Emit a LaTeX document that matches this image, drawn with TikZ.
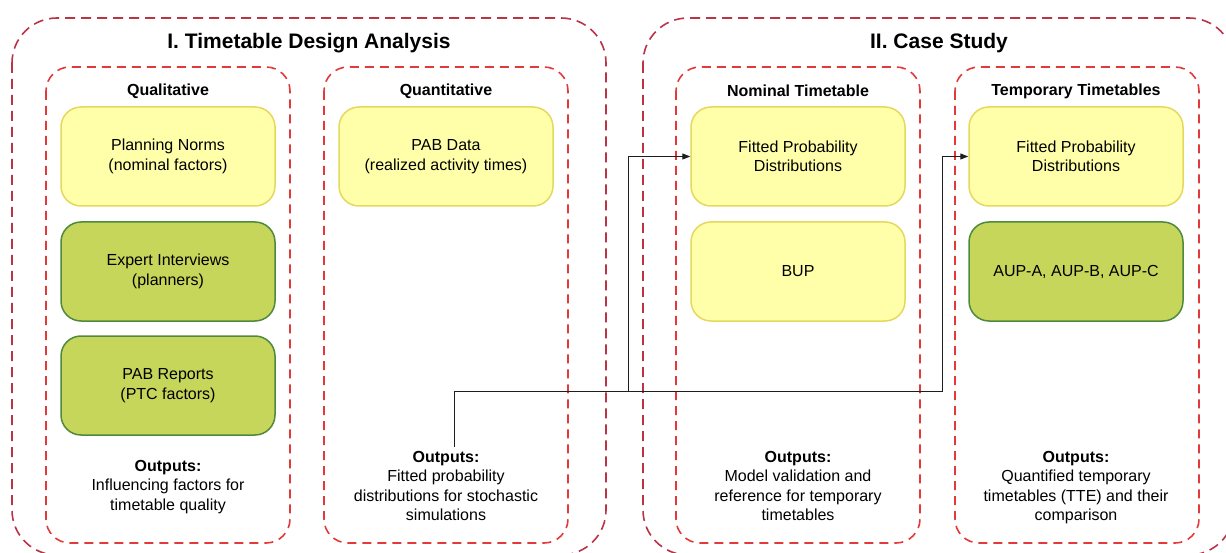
\documentclass[tikz,border=0pt]{standalone}
\usepackage{fontspec}
\setmainfont{Liberation Sans}
\usetikzlibrary{arrows.meta}

\definecolor{outerred}{RGB}{186,52,72}
\definecolor{innerred}{RGB}{226,58,58}
\definecolor{paleyellow}{RGB}{255,255,170}
\definecolor{yellowedge}{RGB}{230,216,92}
\definecolor{leafgreen}{RGB}{198,214,90}
\definecolor{leafedge}{RGB}{78,138,62}
\definecolor{wire}{RGB}{30,30,30}

\begin{document}
\begin{tikzpicture}[x=1pt,y=-1pt,
  phase/.style={draw=outerred, line width=1.6pt, dash pattern=on 10pt off 6pt, rounded corners=45pt},
  track/.style={draw=innerred, line width=1.6pt, dash pattern=on 9pt off 6pt, rounded corners=24pt},
  card/.style={rounded corners=20pt, line width=1.5pt, minimum width=214pt, minimum height=99pt,
    align=center, inner sep=0pt, font=\fontsize{16}{19.5}\selectfont},
  twoline/.style={execute at begin node={\rule{0pt}{16pt}}},
  normcard/.style={card, draw=yellowedge, fill=paleyellow},
  expertcard/.style={card, draw=leafedge, fill=leafgreen},
  heading/.style={font=\fontsize{21}{24}\bfseries\selectfont, inner sep=0pt},
  subheading/.style={font=\fontsize{16}{19}\bfseries\selectfont, inner sep=0pt},
  outtext/.style={align=center, inner sep=0pt, anchor=north, font=\fontsize{16}{19.5}\selectfont,
    execute at begin node={\rule{0pt}{12pt}}},
  link/.style={draw=wire, line width=1pt, -{Triangle[length=8pt,width=6pt]}}
]
\useasboundingbox (0,0) rectangle (1226,553);

% phase frames
\draw[phase] (12,18) rectangle (606,555);
\draw[phase] (643,18) rectangle (1234,555);
\node[heading] (titleA) at (309,43.5) {I. Timetable Design Analysis};
\node[heading] (titleB) at (939,43.5) {II. Case Study};

% column frames
\draw[track] (46,67) rectangle (290,543);
\draw[track] (324,67) rectangle (568,543);
\draw[track] (676,67) rectangle (920,543);
\draw[track] (955,67) rectangle (1199,543);

\node[subheading] (hQual) at (168,91) {Qualitative};
\node[subheading] (hQuant) at (446,91) {Quantitative};
\node[subheading] (hNom) at (798,91) {Nominal Timetable};
\node[subheading] (hTemp) at (1076,91) {Temporary Timetables};

% qualitative sources
\node[normcard, twoline] (norms) at (168,156.5) {Planning Norms\\(nominal factors)};
\node[expertcard, twoline] (experts) at (168,271.5) {Expert Interviews\\(planners)};
\node[expertcard, twoline] (reports) at (168,385.5) {PAB Reports\\(PTC factors)};

% quantitative source
\node[normcard, twoline] (pabdata) at (446,156.5) {PAB Data\\(realized activity times)};

% case study
\node[normcard, twoline] (fitA) at (798,156.5) {Fitted Probability\\Distributions};
\node[normcard] (bup) at (798,271.5) {BUP};
\node[normcard, twoline] (fitB) at (1076,156.5) {Fitted Probability\\Distributions};
\node[expertcard] (aup) at (1076,271.5) {AUP-A, AUP-B, AUP-C};

% outputs
\node[outtext] (outQual) at (168,460) {\textbf{Outputs:}\\Influencing factors for\\timetable quality};
\node[outtext] (outQuant) at (446,451) {\textbf{Outputs:}\\Fitted probability\\distributions for stochastic\\simulations};
\node[outtext] (outNom) at (798,451) {\textbf{Outputs:}\\Model validation and\\reference for temporary\\timetables};
\node[outtext] (outTemp) at (1076,451) {\textbf{Outputs:}\\Quantified temporary\\timetables (TTE) and their\\comparison};

% distribution hand-over
\coordinate (tap) at (454,447);
\coordinate (split) at (454,391);
\coordinate (bendA) at (628,391);
\coordinate (bendB) at (942,391);
\draw[link] (tap) -- (split) -- (bendA) |- (fitA.west);
\draw[link] (split) -- (bendB) |- (fitB.west);
\end{tikzpicture}
\end{document}
